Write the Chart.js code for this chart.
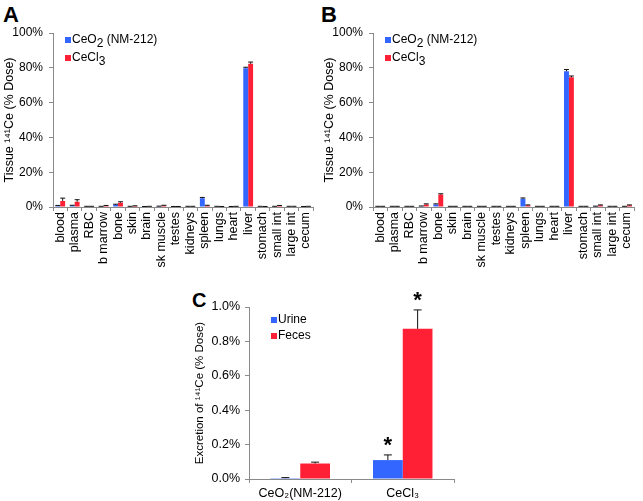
<!DOCTYPE html>
<html>
<head>
<meta charset="utf-8">
<script src="https://cdn.jsdelivr.net/npm/chart.js@4/dist/chart.umd.min.js"></script>
<style>
    body { margin: 0; background: #fff; width: 643px; height: 501px; position: relative; overflow: hidden; font-family: "Liberation Sans", Arial, sans-serif; }
    canvas { position: absolute; }
    .tag { position: absolute; font-weight: bold; font-size: 22px; line-height: 22px; color: #000; }
</style>
</head>
<body>
<div class="tag" style="left:3px;top:4px">A</div>
<div class="tag" style="left:321px;top:4px">B</div>
<div class="tag" style="left:192px;top:289px;font-size:20px">C</div>
<canvas id="chartA" width="322" height="290" style="left:0;top:0"></canvas>
<canvas id="chartB" width="323" height="290" style="left:320px;top:0"></canvas>
<canvas id="chartC" width="284" height="216" style="left:186px;top:285px"></canvas>

<script>
const organs = ['blood', 'plasma', 'RBC', 'b marrow', 'bone', 'skin', 'brain', 'sk muscle', 'testes',
    'kidneys', 'spleen', 'lungs', 'heart', 'liver', 'stomach', 'small int', 'large int', 'cecum'];

// panel A (% dose)
const ceo2A = [0.7, 0.8, 0.3, 0.3, 1.3, 0.3, 0.2, 0.4, 0.2, 0.3, 5.0, 0.3, 0.2, 79.8, 0.3, 0.3, 0.3, 0.2];
const ceo2AErr = [0.2, 0.2, 0.1, 0.1, 0.3, 0.1, 0.1, 0.1, 0.1, 0.1, 0.5, 0.1, 0.1, 0.5, 0.1, 0.1, 0.1, 0.1];
const ceCl3A = [3.5, 3.0, 0.3, 0.7, 2.5, 0.6, 0.3, 0.8, 0.2, 0.3, 0.8, 0.2, 0.3, 82.3, 0.2, 0.7, 0.3, 0.3];
const ceCl3AErr = [1.6, 1.2, 0.1, 0.2, 0.5, 0.1, 0.1, 0.2, 0.1, 0.1, 0.2, 0.1, 0.1, 1.0, 0.1, 0.2, 0.1, 0.1];

// panel B (% dose)
const ceo2B = [0.3, 0.3, 0.3, 0.5, 1.5, 0.3, 0.3, 0.3, 0.3, 0.3, 4.7, 0.3, 0.3, 78.0, 0.3, 0.4, 0.3, 0.3];
const ceo2BErr = [0.1, 0.1, 0.1, 0.1, 0.3, 0.1, 0.1, 0.1, 0.1, 0.1, 0.5, 0.1, 0.1, 1.0, 0.1, 0.1, 0.1, 0.1];
const ceCl3B = [0.3, 0.3, 0.3, 1.5, 7.2, 0.3, 0.3, 0.3, 0.3, 0.3, 1.0, 0.3, 0.3, 74.5, 0.3, 1.0, 0.3, 1.0];
const ceCl3BErr = [0.1, 0.1, 0.1, 0.3, 0.4, 0.1, 0.1, 0.1, 0.1, 0.1, 0.2, 0.1, 0.1, 0.8, 0.1, 0.2, 0.1, 0.2];
const tissueTicks = [0, 20, 40, 60, 80, 100];

// panel C (% dose excreted)
const treatments = ['CeO\u2082(NM-212)', 'CeCl\u2083'];
const urine = [0.005, 0.11];
const urineErr = [0.003, 0.03];
const feces = [0.09, 0.873];
const fecesErr = [0.008, 0.11];
const significant = [false, true];
const excretionTicks = [0, 0.2, 0.4, 0.6, 0.8, 1.0];

const BLUE = '#3366ff';
const RED = '#ff2036';
const AXIS = '#8a8a8a';
const FONT = '"Liberation Sans", Arial, sans-serif';

// text pieces: [text, isSubscript]
function drawRich(ctx, parts, x, y, size) {
    ctx.font = `${size}px ${FONT}`;
    parts.forEach(([text, sub]) => {
        ctx.fillText(text, x, y + (sub ? size * 0.3 : 0));
        x += ctx.measureText(text).width;
    });
}

function makeChart(id, cfg) {
    const ctx = document.getElementById(id).getContext('2d');

    const extras = {
        id: 'extras',
        afterDatasetsDraw(chart) {
            const c = chart.ctx;
            const y = chart.scales.y;
            const area = chart.chartArea;
            c.save();
            // error bars (upper only)
            cfg.series.forEach((s, i) => {
                chart.getDatasetMeta(i).data.forEach((bar, j) => {
                    const top = y.getPixelForValue(s.data[j] + s.err[j]);
                    const half = Math.min(bar.width / 2, cfg.cap);
                    c.strokeStyle = '#111';
                    c.lineWidth = 1;
                    c.beginPath();
                    c.moveTo(bar.x, bar.y);
                    c.lineTo(bar.x, top);
                    c.moveTo(bar.x - half, top);
                    c.lineTo(bar.x + half, top);
                    c.stroke();
                    if (s.stars && s.stars[j]) {
                        c.fillStyle = '#000';
                        c.font = `bold 22px ${FONT}`;
                        c.textAlign = 'center';
                        c.textBaseline = 'alphabetic';
                        c.fillText('*', bar.x, top - 3);
                    }
                });
            });
            // legend inside the plot
            c.textAlign = 'left';
            c.textBaseline = 'middle';
            cfg.series.forEach((s, i) => {
                const ly = area.top + cfg.legend.dy + i * cfg.legend.gap;
                const lx = area.left + cfg.legend.dx;
                c.fillStyle = s.color;
                c.fillRect(lx, ly - 3, 6, 6);
                c.fillStyle = '#000';
                drawRich(c, s.name, lx + 7, ly, cfg.legend.size);
            });
            c.restore();
        }
    };

    return new Chart(ctx, {
        type: 'bar',
        data: {
            labels: cfg.labels,
            datasets: cfg.series.map(s => ({
                data: s.data,
                backgroundColor: s.color,
                borderWidth: 0,
                categoryPercentage: cfg.catPct,
                barPercentage: 1.0
            }))
        },
        options: {
            responsive: false,
            animation: false,
            devicePixelRatio: 1,
            layout: { padding: cfg.padding },
            plugins: { legend: { display: false }, tooltip: { enabled: false } },
            scales: {
                x: {
                    grid: { drawOnChartArea: false, drawTicks: true, tickLength: 4, color: AXIS, offset: true },
                    border: { color: AXIS, width: 1 },
                    ticks: {
                        color: '#000',
                        font: { family: FONT, size: cfg.xFont },
                        minRotation: cfg.rotate,
                        maxRotation: cfg.rotate,
                        autoSkip: false,
                        padding: cfg.xPad
                    },
                    afterFit: s => { s.height = cfg.xHeight; }
                },
                y: {
                    min: 0,
                    max: cfg.ticks[cfg.ticks.length - 1],
                    afterBuildTicks: s => { s.ticks = cfg.ticks.map(v => ({ value: v })); },
                    grid: { drawOnChartArea: false, drawTicks: true, tickLength: 4, color: AXIS },
                    border: { color: AXIS, width: 1 },
                    ticks: {
                        color: '#000',
                        font: { family: FONT, size: cfg.yFont },
                        padding: cfg.yPad,
                        callback: cfg.fmt
                    },
                    title: {
                        display: true,
                        text: cfg.title,
                        color: '#000',
                        font: { family: FONT, size: cfg.titleFont },
                        padding: { top: cfg.titlePad, bottom: 0 }
                    },
                    afterFit: s => { s.width = cfg.yWidth; }
                }
            }
        },
        plugins: [extras]
    });
}

const tissueCommon = {
    labels: organs,
    ticks: tissueTicks,
    fmt: v => v + '%',
    title: 'Tissue \u00b9\u2074\u00b9Ce (% Dose)',
    catPct: 0.68,
    cap: 3,
    rotate: 90,
    xFont: 12.5,
    xPad: 1,
    xHeight: 83,
    yFont: 12,
    yPad: 6,
    yWidth: 53,
    titleFont: 12.5,
    titlePad: 2,
    padding: { top: 33, right: 0, left: 0, bottom: 0 },
    legend: { dx: 12, dy: 7, gap: 18, size: 12 }
};

const nameCeO2 = [['CeO', false], ['2', true], [' (NM-212)', false]];
const nameCeCl3 = [['CeCl', false], ['3', true]];

makeChart('chartA', Object.assign({}, tissueCommon, {
    series: [
        { name: nameCeO2, data: ceo2A, err: ceo2AErr, color: BLUE },
        { name: nameCeCl3, data: ceCl3A, err: ceCl3AErr, color: RED }
    ]
}));

makeChart('chartB', Object.assign({}, tissueCommon, {
    series: [
        { name: nameCeO2, data: ceo2B, err: ceo2BErr, color: BLUE },
        { name: nameCeCl3, data: ceCl3B, err: ceCl3BErr, color: RED }
    ]
}));

makeChart('chartC', {
    labels: treatments,
    ticks: excretionTicks,
    fmt: v => v.toFixed(1) + '%',
    title: 'Excretion of \u00b9\u2074\u00b9Ce (% Dose)',
    catPct: 0.58,
    cap: 4,
    rotate: 0,
    xFont: 12.5,
    xPad: 3,
    xHeight: 22,
    yFont: 12.5,
    yPad: 5,
    yWidth: 63,
    titleFont: 11.5,
    titlePad: 7,
    padding: { top: 22, right: 16, left: 0, bottom: 0 },
    legend: { dx: 22, dy: 13, gap: 16, size: 12 },
    series: [
        { name: [['Urine', false]], data: urine, err: urineErr, color: BLUE, stars: significant },
        { name: [['Feces', false]], data: feces, err: fecesErr, color: RED, stars: significant }
    ]
});
</script>
</body>
</html>
